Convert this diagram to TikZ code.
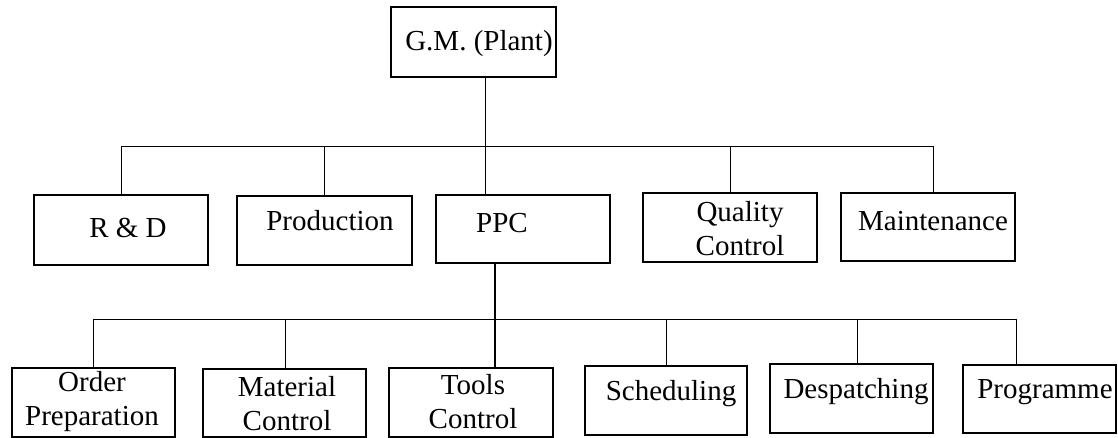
\documentclass[tikz,border=0pt]{standalone}
\usepackage{fontspec}
\setmainfont{Liberation Serif}
\begin{document}
\begin{tikzpicture}[x=1pt,y=-1pt,
  unit/.style={draw, rectangle, inner sep=0pt, outer sep=0pt, anchor=north west, line width=1.2pt},
  orgtext/.style={inner sep=0pt, anchor=base, align=center, font=\fontsize{29}{34}\selectfont},
  link/.style={line width=1pt},
  mainlink/.style={line width=2.4pt}]
\useasboundingbox (0,0) rectangle (1118,437);

% top of the chart
\node[unit, minimum width=165pt, minimum height=70pt] (gm) at (391,7) {};
\node[orgtext] (gmt) at (479,50) {G.M. (Plant)};

% departments
\node[unit, minimum width=174pt, minimum height=70pt] (rd)    at (34,195)  {};
\node[unit, minimum width=175pt, minimum height=69pt] (prod)  at (237,196) {};
\node[unit, minimum width=174pt, minimum height=68pt] (ppc)   at (436,195) {};
\node[unit, minimum width=174pt, minimum height=69pt] (qc)    at (643,193) {};
\node[unit, minimum width=174pt, minimum height=68pt] (maint) at (841,193) {};
\node[orgtext] (rdt)    at (128,237) {R \& D};
\node[orgtext] (prodt)  at (330,230) {Production};
\node[orgtext] (ppct)   at (502,232) {PPC};
% two-line labels are anchored at the baseline of their last line
\node[orgtext] (qct)    at (740,255) {Quality\\Control};
\node[orgtext] (maintt) at (933,230) {Maintenance};

% sections under PPC
\node[unit, minimum width=163pt, minimum height=69pt] (order) at (12,368)  {};
\node[unit, minimum width=163pt, minimum height=68pt] (mat)   at (203,369) {};
\node[unit, minimum width=164pt, minimum height=69pt] (tools) at (389,368) {};
\node[unit, minimum width=162pt, minimum height=69pt] (sched) at (585,366) {};
\node[unit, minimum width=163pt, minimum height=69pt] (desp)  at (770,364) {};
\node[unit, minimum width=153pt, minimum height=68pt] (prog)  at (963,365) {};
\node[orgtext] (ordert) at (92,425)   {Order\\Preparation};
\node[orgtext] (matt)   at (287,430)  {Material\\Control};
\node[orgtext] (toolst) at (473,428)  {Tools\\Control};
\node[orgtext] (schedt) at (671,400)  {Scheduling};
\node[orgtext] (despt)  at (856,398)  {Despatching};
\node[orgtext] (progt)  at (1045,398) {Programme};

% junction points on the two bars
\coordinate (ua) at (121,146);
\coordinate (ub) at (324,146);
\coordinate (uc) at (485,146);
\coordinate (ud) at (730,146);
\coordinate (ue) at (933,146);
\coordinate (la) at (93,319);
\coordinate (lb) at (285,319);
\coordinate (lc) at (495,319);
\coordinate (ld) at (666,319);
\coordinate (le) at (857,319);
\coordinate (lf) at (1016,319);

% upper level
\draw[link] (gm.south -| uc) -- (uc);
\draw[link] (ua) -- (ue);
\draw[link] (ua) -- (rd.north -| ua);
\draw[link] (ub) -- (prod.north -| ub);
\draw[link] (uc) -- (ppc.north -| uc);
\draw[link] (ud) -- (qc.north -| ud);
\draw[link] (ue) -- (maint.north -| ue);

% lower level
\draw[mainlink] (ppc.south -| lc) -- (tools.north -| lc);
\draw[link] (la) -- (lf);
\draw[link] (la) -- (order.north -| la);
\draw[link] (lb) -- (mat.north -| lb);
\draw[link] (ld) -- (sched.north -| ld);
\draw[link] (le) -- (desp.north -| le);
\draw[link] (lf) -- (prog.north -| lf);
\end{tikzpicture}
\end{document}
